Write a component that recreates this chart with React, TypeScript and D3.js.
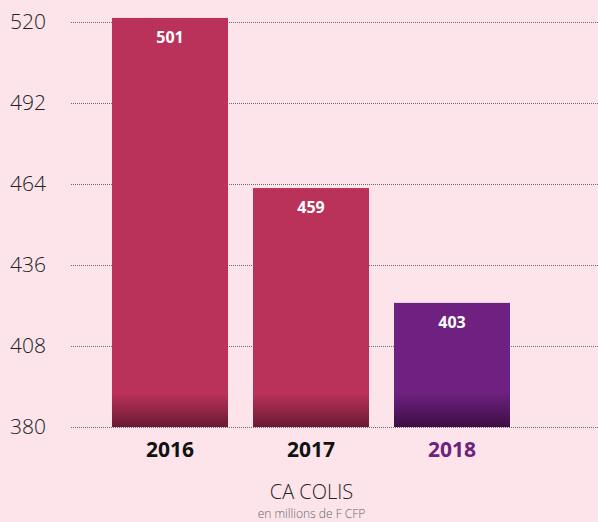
import React from "react";
import * as d3 from "d3";

const years = ["2016", "2017", "2018"];
const barValues = [521.4, 462.6, 422.9];
const barLabels = ["501", "459", "403"];
const yTicks = [380, 408, 436, 464, 492, 520];
const title = "CA COLIS";
const subtitle = "en millions de F CFP";

const W = 598;
const H = 522;

export default function App() {
  const y = d3.scaleLinear().domain([380, 520]).range([427, 22]);
  const p = 25 / 141;
  const x = d3
    .scaleBand<string>()
    .domain(years)
    .range([99.5, 522.5])
    .paddingInner(p)
    .paddingOuter(p / 2);
  const colors = ["#BA3259", "#BA3259", "#6E2180"];
  const darks = ["#6A1A33", "#6A1A33", "#3C0E44"];
  const font = "'Open Sans', 'Noto Sans', sans-serif";
  return (
    <div style={{ position: "fixed", left: 0, top: 0, width: W, height: H }}>
      <svg width={W} height={H} style={{ display: "block" }}>
        <defs>
          {years.map((yr, i) => (
            <linearGradient key={yr} id={`g${i}`} x1="0" y1="0" x2="0" y2="1">
              <stop offset="0" stopColor={colors[i]} />
              <stop offset="1" stopColor={darks[i]} />
            </linearGradient>
          ))}
        </defs>
        <rect x={0} y={0} width={W} height={H} fill="#FCE4EA" />
        {yTicks.map((t) => (
          <g key={t}>
            <line
              x1={71}
              x2={W}
              y1={Math.round(y(t)) + 0.5}
              y2={Math.round(y(t)) + 0.5}
              stroke="#6b6b6b"
              strokeWidth={1}
              strokeDasharray="1,1"
            />
            <text
              x={10}
              y={y(t)}
              dy="0.35em"
              fontFamily={font}
              fontWeight={300}
              fontSize={21}
              fill="#222"
            >
              {t}
            </text>
          </g>
        ))}
        {years.map((yr, i) => {
          const x0 = x(yr)!;
          const top = y(barValues[i]);
          const bottom = y(380);
          const gradH = 34;
          return (
            <g key={yr}>
              <rect x={x0} y={top} width={x.bandwidth()} height={bottom - top} fill={colors[i]} />
              <rect
                x={x0}
                y={bottom - gradH}
                width={x.bandwidth()}
                height={gradH}
                fill={`url(#g${i})`}
              />
              <text
                x={x0 + x.bandwidth() / 2}
                y={top + 25}
                textAnchor="middle"
                fontFamily={font}
                fontWeight={700}
                fontSize={16}
                fill="#fff"
              >
                {barLabels[i]}
              </text>
              <text
                x={x0 + x.bandwidth() / 2}
                y={457}
                textAnchor="middle"
                fontFamily={font}
                fontWeight={700}
                fontSize={21}
                fill={i === 2 ? "#6E2180" : "#111"}
              >
                {yr}
              </text>
            </g>
          );
        })}
        <text
          x={311.5}
          y={499}
          textAnchor="middle"
          fontFamily={font}
          fontWeight={300}
          fontSize={20}
          fill="#222"
        >
          {title}
        </text>
        <text
          x={311.5}
          y={518}
          textAnchor="middle"
          fontFamily={font}
          fontWeight={300}
          fontSize={12}
          fill="#666"
        >
          {subtitle}
        </text>
      </svg>
    </div>
  );
}
